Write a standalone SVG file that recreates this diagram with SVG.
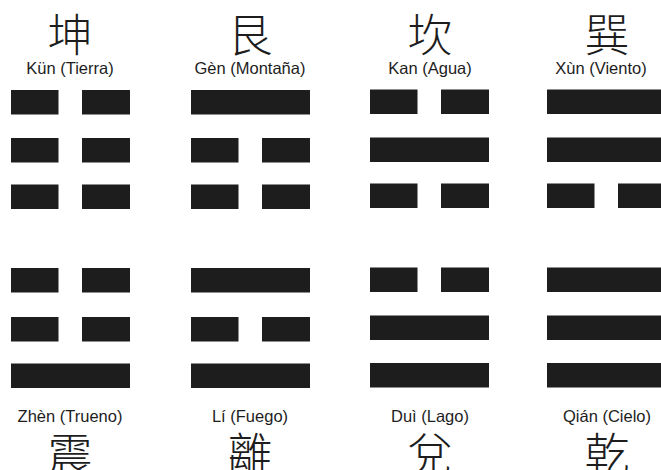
<svg xmlns="http://www.w3.org/2000/svg" width="661" height="470" viewBox="0 0 661 470">
<style>
.bar{fill:#1d1d1d}
.han{font-family:"Noto Sans CJK TC","Noto Sans CJK SC",sans-serif;font-size:45px;font-weight:300;fill:#1d1d1d;text-anchor:middle}
.lbl{font-family:"Liberation Sans",Arial,sans-serif;font-size:16.5px;fill:#1d1d1d;text-anchor:middle}
</style>
<defs>
<g id="solid"><rect class="bar" x="0" y="0" width="119" height="24.5"/></g>
<g id="broken"><rect class="bar" x="0" y="0" width="47.5" height="24.5"/><rect class="bar" x="71" y="0" width="48" height="24.5"/></g>
</defs>
<rect width="661" height="470" fill="#ffffff"/>
<g id="kun">
<text class="han" x="70" y="52">坤</text>
<text class="lbl" x="70" y="74">Kün (Tierra)</text>
<use href="#broken" x="11" y="90"/><use href="#broken" x="11" y="138"/><use href="#broken" x="11" y="184.5"/>
</g>
<g id="gen">
<text class="han" x="250" y="52">艮</text>
<text class="lbl" x="250" y="74">Gèn (Montaña)</text>
<use href="#solid" x="191" y="90"/><use href="#broken" x="191" y="138"/><use href="#broken" x="191" y="184.5"/>
</g>
<g id="kan">
<text class="han" x="430" y="52">坎</text>
<text class="lbl" x="430" y="74">Kan (Agua)</text>
<use href="#broken" x="370" y="89.5"/><use href="#solid" x="370" y="137.5"/><use href="#broken" x="370" y="183.5"/>
</g>
<g id="xun">
<text class="han" x="607" y="52">巽</text>
<text class="lbl" x="601" y="74">Xùn (Viento)</text>
<use href="#solid" x="547" y="89.5"/><use href="#solid" x="547" y="137.5"/><use href="#broken" x="547" y="183.5"/>
</g>
<g id="zhen">
<use href="#broken" x="11" y="268"/><use href="#broken" x="11" y="317"/><use href="#solid" x="11" y="363.5"/>
<text class="lbl" x="70" y="422">Zhèn (Trueno)</text>
<text class="han" x="70" y="471">震</text>
</g>
<g id="li">
<use href="#solid" x="191" y="268"/><use href="#broken" x="191" y="317"/><use href="#solid" x="191" y="363.5"/>
<text class="lbl" x="250" y="422">Lí (Fuego)</text>
<text class="han" x="250" y="471">離</text>
</g>
<g id="dui">
<use href="#broken" x="370" y="267.5"/><use href="#solid" x="370" y="315.5"/><use href="#solid" x="370" y="363"/>
<text class="lbl" x="430" y="422">Duì (Lago)</text>
<text class="han" x="430" y="471">兌</text>
</g>
<g id="qian">
<use href="#solid" x="547" y="267.5"/><use href="#solid" x="547" y="315.5"/><use href="#solid" x="547" y="363"/>
<text class="lbl" x="607" y="422">Qián (Cielo)</text>
<text class="han" x="607" y="471">乾</text>
</g>
</svg>
